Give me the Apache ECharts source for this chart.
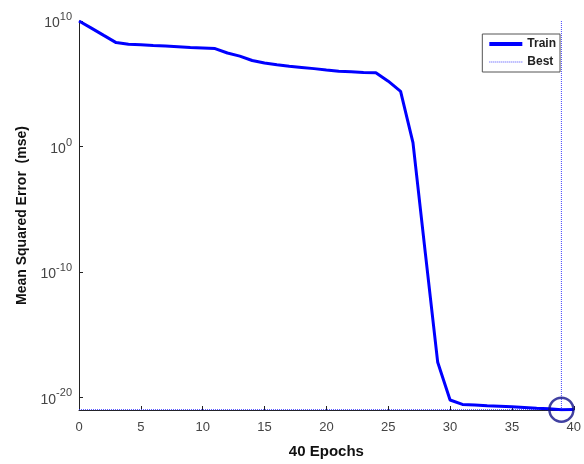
<!DOCTYPE html>
<html>
<head>
<meta charset="utf-8">
<script src="https://cdn.jsdelivr.net/npm/echarts@6/dist/echarts.min.js"></script>
<style>
  html, body { margin: 0; padding: 0; background: #fff; }
  #chart { width: 584px; height: 464px; }
</style>
</head>
<body>
<div id="chart"></div>
<script>
// training record
var epochs = [0, 1, 2, 3, 4, 5, 6, 7, 8, 9, 10, 11, 12, 13, 14, 15, 16, 17, 18, 19, 20,
              21, 22, 23, 24, 25, 26, 27, 28, 29, 30, 31, 32, 33, 34, 35, 36, 37, 38, 39, 40];
var trainMse = [1e10, 2.7e9, 7.1e8, 1.9e8, 1.4e8, 1.26e8, 1.12e8, 1.0e8, 8.9e7, 7.9e7, 7.1e7,
                6.3e7, 2.8e7, 1.6e7, 7.1e6, 4.5e6, 3.2e6, 2.5e6, 2.0e6, 1.6e6, 1.26e6,
                1.0e6, 8.9e5, 7.9e5, 7.6e5, 1.6e5, 2.5e4, 2.0, 3.2e-9, 6.3e-18, 6.3e-21,
                2.8e-21, 2.5e-21, 2.2e-21, 2.0e-21, 1.8e-21, 1.6e-21, 1.4e-21, 1.26e-21, 1.07e-21, 1.1e-21];
var bestEpoch = 39;
var bestMse = 1.07e-21;
var yTicks = [1e-20, 1e-10, 1, 1e10];

var font = "'Liberation Sans', Arial, sans-serif";
var trainData = [];
for (var i = 0; i < epochs.length; i++) {
    trainData.push([epochs[i], trainMse[i]]);
}

var chart = echarts.init(document.getElementById('chart'));
var option = {
    backgroundColor: '#fff',
    animation: false,
    grid: {
        left: 79,
        right: 10,
        top: 21,
        bottom: 53
    },
    legend: {
        data: [
            { name: 'Train', lineStyle: { width: 4 } },
            { name: 'Best', lineStyle: { width: 1 } }
        ],
        orient: 'vertical',
        right: 24,
        top: 34,
        padding: [4, 4, 4, 5],
        itemWidth: 33,
        itemHeight: 14,
        itemGap: 6,
        borderColor: '#555',
        borderWidth: 1,
        itemStyle: { opacity: 0 }, // line only, no marker
        textStyle: {
            fontFamily: font,
            fontWeight: 'bold',
            fontSize: 12,
            color: '#222'
        }
    },
    xAxis: {
        type: 'value',
        min: 0,
        max: 40,
        interval: 5,
        name: '40 Epochs',
        nameLocation: 'middle',
        nameGap: 34,
        nameTextStyle: {
            fontFamily: font,
            fontWeight: 'bold',
            fontSize: 15,
            color: '#111'
        },
        axisLine: { lineStyle: { color: '#222', width: 1 } },
        axisTick: { inside: true, length: 4, lineStyle: { color: '#222' } },
        axisLabel: {
            margin: 11,
            fontFamily: font,
            fontSize: 13,
            color: '#444'
        },
        splitLine: { show: false }
    },
    yAxis: {
        type: 'log',
        logBase: 10,
        min: 1e-21,
        max: 1e10,
        name: 'Mean Squared Error  (mse)',
        nameLocation: 'middle',
        nameGap: 49,
        nameTextStyle: {
            fontFamily: font,
            fontWeight: 'bold',
            fontSize: 14,
            color: '#111'
        },
        axisLine: { show: true, lineStyle: { color: '#222', width: 1 } },
        axisTick: { show: true, inside: true, length: 4, customValues: yTicks, lineStyle: { color: '#222' } },
        axisLabel: {
            customValues: yTicks,
            margin: 7,
            formatter: function (v) {
                var p = Math.round(Math.log10(v));
                return '{b|10}{s|' + p + '}';
            },
            rich: {
                b: { fontFamily: font, fontSize: 14, color: '#444', verticalAlign: 'bottom' },
                s: { fontFamily: font, fontSize: 11, color: '#444', verticalAlign: 'top', padding: [0, 0, 8, 0] }
            }
        },
        splitLine: { show: false },
        minorTick: { show: false }
    },
    series: [
        {
            name: 'Train',
            type: 'line',
            symbol: 'none',
            data: trainData,
            lineStyle: { color: '#0000ff', width: 3 },
            itemStyle: { color: '#0000ff' },
            z: 3
        },
        {
            name: 'Best',
            type: 'line',
            symbol: 'none',
            data: [[bestEpoch, 1e-21], [bestEpoch, 1e10]],
            lineStyle: { color: '#4444ff', width: 1, type: 'dotted' },
            itemStyle: { color: '#4444ff' },
            z: 2
        },
        {
            name: 'Best',
            type: 'line',
            symbol: 'none',
            data: [[0, bestMse], [40, bestMse]],
            lineStyle: { color: '#4444ff', width: 1, type: 'dotted' },
            itemStyle: { color: '#4444ff' },
            z: 2
        },
        {
            name: 'bestMark',
            type: 'scatter',
            data: [[bestEpoch, bestMse]],
            symbol: 'circle',
            symbolSize: 24,
            itemStyle: { color: 'none', borderColor: '#10108a', borderWidth: 2.5 },
            z: 4
        }
    ]
};
chart.setOption(option);
window.addEventListener('resize', function () {
    chart.resize();
});
</script>
</body>
</html>
